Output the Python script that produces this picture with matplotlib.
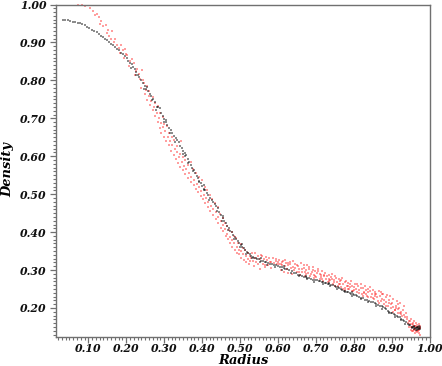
import matplotlib
matplotlib.use("Agg")
import matplotlib.pyplot as plt
from matplotlib.ticker import MultipleLocator, FormatStrFormatter

# Values (radius, density)
black_upper = [(.033,.960),(.039,.959),(.046,.958),(.053,.956),(.060,.955),(.066,.953),(.073,.952),(.078,.951),
 (.084,.948),(.090,.945),(.096,.941),(.103,.937),(.110,.934),(.116,.931),(.122,.928),(.127,.922),(.133,.918),
 (.138,.914),(.143,.908),(.149,.906),(.155,.901),(.160,.897),(.165,.893),(.170,.888),(.175,.883),(.181,.880),
 (.186,.873),(.191,.869),(.197,.864),(.202,.859),(.206,.852),(.210,.846),(.214,.842),(.218,.835),(.222,.829),
 (.227,.823),(.231,.815),(.235,.809),(.240,.800),(.244,.793),(.249,.786),(.253,.778),(.257,.773),(.262,.764),
 (.266,.758),(.270,.751),(.275,.742),(.281,.730),(.285,.731),(.289,.727),(.293,.715),(.297,.706),(.301,.698),
 (.305,.689),(.308,.682),(.313,.675),(.318,.668),(.322,.662),(.327,.654),(.331,.648),(.335,.642),(.339,.637)]
black_middle = [(.343,.628),(.347,.621),(.351,.614),(.355,.608),(.358,.602),(.362,.594),(.366,.585),(.370,.578),
 (.374,.570),(.378,.563),(.382,.556),(.386,.548),(.389,.542),(.393,.536),(.397,.530),(.401,.522),(.405,.514),
 (.409,.510),(.413,.504),(.417,.497),(.421,.491),(.425,.485),(.429,.480),(.433,.474),(.437,.468),(.442,.463),
 (.446,.453),(.450,.445),(.454,.437),(.458,.430),(.462,.424),(.466,.417),(.470,.411),(.474,.404),(.478,.399),
 (.482,.393),(.486,.388),(.490,.383),(.494,.377),(.498,.372),(.502,.367),(.506,.362),(.510,.357),(.514,.352),
 (.518,.348),(.522,.344),(.526,.341),(.530,.338),(.534,.335),(.538,.333),(.542,.331),(.546,.329),(.550,.328),
 (.555,.325),(.560,.323),(.565,.322),(.570,.320),(.575,.318),(.580,.317),(.585,.315),(.590,.314),(.595,.313)]
black_lower = [(.600,.311),(.605,.309),(.610,.307),(.615,.306),(.620,.304),(.625,.302),(.630,.299),(.636,.297),
 (.642,.293),(.648,.291),(.653,.288),(.658,.286),(.663,.285),(.668,.282),(.673,.281),(.678,.279),(.683,.278),
 (.688,.276),(.693,.275),(.698,.274),(.703,.273),(.708,.271),(.712,.270),(.716,.268),(.720,.268),(.724,.266),
 (.728,.265),(.732,.263),(.736,.262),(.740,.261),(.746,.260),(.750,.257),(.754,.255),(.758,.254),(.762,.252),
 (.766,.250),(.770,.248),(.774,.246),(.778,.245),(.782,.243),(.786,.241),(.790,.239),(.794,.238),(.798,.236),
 (.802,.235),(.806,.233),(.810,.231),(.815,.229),(.820,.227),(.825,.225),(.830,.222),(.835,.220),(.840,.219),
 (.845,.217),(.850,.215),(.855,.213),(.860,.210),(.865,.208),(.870,.205),(.874,.204),(.878,.202),(.882,.199),
 (.886,.196),(.890,.193),(.894,.190),(.898,.187),(.902,.187),(.906,.183),(.910,.181),(.914,.178),(.918,.177),
 (.922,.176),(.926,.172),(.930,.168),(.934,.166),(.938,.162),(.942,.159),(.946,.156),(.949,.155),(.953,.151),
 (.956,.150),(.959,.149),(.962,.147),(.965,.146),(.968,.148),(.971,.145),(.974,.144),(.975,.150),(.972,.152),
 (.968,.142),(.960,.144),(.955,.147),(.965,.141),(.970,.149),(.958,.153),(.972,.146),(.969,.144),(.966,.150)]
black_off = [(.213,.833),(.226,.815),(.248,.777),(.268,.748),(.279,.722),(.299,.691),(.316,.660),(.329,.638),
 (.349,.607),(.364,.581),(.376,.560),(.391,.531),(.404,.510),(.419,.485),(.440,.455),(.452,.430),(.468,.405),
 (.484,.382),(.500,.361),(.516,.343),(.532,.331),(.552,.320),(.572,.314),(.592,.308),(.612,.301),(.634,.293),
 (.655,.283),(.676,.276),(.696,.269),(.718,.263),(.738,.257),(.756,.250),(.776,.241),(.796,.232),(.818,.223),
 (.838,.215),(.858,.206),(.876,.198),(.892,.188),(.908,.177),(.924,.168),(.936,.158),(.795,.242),(.735,.266),
 (.675,.285),(.615,.311),(.555,.331),(.505,.369),(.455,.443),(.405,.523),(.355,.600),(.305,.695),(.255,.783)]

red_upper = [(.074,.999),(.083,.998),(.092,.995),(.105,.990),(.112,.983),(.122,.976),(.127,.967),(.134,.957),
 (.131,.948),(.146,.946),(.153,.933),(.162,.929),(.155,.918),(.161,.908),(.170,.910),(.176,.894),(.187,.893),
 (.192,.880),(.184,.872),(.198,.884),(.203,.867),(.195,.858),(.214,.856),(.208,.838),(.220,.846),(.229,.830),
 (.222,.815),(.241,.828),(.236,.804),(.246,.792),(.240,.781),(.254,.785),(.249,.763),(.261,.772),(.256,.748),
 (.270,.755),(.263,.735),(.276,.741),(.271,.722),(.283,.733),(.277,.705),(.289,.714),(.284,.690),(.296,.703),
 (.288,.675),(.301,.684),(.293,.662),(.308,.679),(.300,.650),(.314,.662),(.305,.640),(.320,.650),(.312,.629),
 (.327,.642),(.317,.615),(.334,.628),(.325,.604),(.345,.640),(.331,.592),(.341,.606),(.337,.583),(.349,.598)]
red_middle = [(.343,.572),(.356,.590),(.350,.563),(.362,.578),(.356,.552),(.370,.585),(.364,.542),(.376,.566),
 (.370,.533),(.385,.556),(.378,.524),(.392,.545),(.384,.514),(.400,.538),(.390,.505),(.407,.520),(.397,.494),
 (.414,.511),(.403,.486),(.420,.497),(.409,.476),(.427,.488),(.416,.466),(.434,.478),(.422,.456),(.441,.466),
 (.430,.446),(.448,.448),(.437,.434),(.454,.436),(.443,.424),(.460,.425),(.450,.412),(.466,.416),(.456,.402),
 (.472,.405),(.462,.391),(.478,.401),(.468,.382),(.484,.390),(.474,.372),(.490,.384),(.480,.362),(.496,.372),
 (.486,.353),(.502,.368),(.492,.345),(.508,.358),(.498,.342),(.514,.352),(.504,.331),(.520,.345),(.510,.326),
 (.526,.337),(.517,.321),(.533,.345),(.523,.315),(.540,.344),(.529,.331),(.548,.336),(.536,.310),(.556,.340),
 (.543,.322),(.563,.328),(.552,.304),(.570,.335),(.560,.316),(.578,.322),(.566,.308),(.586,.331),(.575,.312),
 (.594,.325),(.582,.305),(.598,.317)]
red_lower = [(.602,.327),(.604,.316),(.607,.300),(.610,.322),(.612,.312),(.615,.296),(.618,.327),(.620,.310),
 (.623,.302),(.626,.319),(.628,.292),(.632,.315),(.634,.305),(.638,.290),(.640,.324),(.643,.301),(.646,.316),
 (.650,.296),(.653,.310),(.656,.302),(.659,.288),(.662,.318),(.665,.295),(.668,.306),(.671,.285),(.674,.300),
 (.677,.312),(.680,.291),(.683,.303),(.686,.283),(.689,.296),(.692,.308),(.695,.286),(.698,.298),(.701,.281),
 (.704,.291),(.707,.302),(.710,.276),(.713,.288),(.716,.297),(.719,.271),(.722,.283),(.725,.292),(.728,.277),
 (.731,.268),(.734,.286),(.737,.274),(.740,.281),(.743,.290),(.746,.264),(.749,.275),(.752,.284),(.755,.268),
 (.758,.259),(.761,.276),(.764,.270),(.767,.256),(.770,.278),(.773,.262),(.776,.253),(.779,.272),(.782,.258),
 (.785,.266),(.788,.250),(.791,.262),(.794,.270),(.797,.246),(.800,.256),(.803,.264),(.806,.251),(.809,.243),
 (.812,.258),(.815,.247),(.818,.262),(.821,.236),(.824,.252),(.827,.243),(.830,.258),(.833,.248),(.836,.231),
 (.839,.242),(.842,.254),(.845,.228),(.848,.238),(.851,.248),(.854,.224),(.857,.243),(.860,.236),(.863,.218),
 (.866,.246),(.869,.231),(.872,.243),(.875,.224),(.878,.238),(.881,.210),(.884,.228),(.887,.235),(.890,.206),
 (.893,.222),(.896,.232),(.899,.200),(.902,.212),(.905,.224),(.908,.194),(.911,.206),(.914,.218),(.917,.188),
 (.920,.200),(.923,.213),(.926,.184),(.929,.194),(.932,.205),(.935,.176),(.938,.187),(.941,.170),(.944,.160),
 (.946,.149),(.949,.165),(.951,.143),(.953,.158),(.955,.150),(.957,.138),(.959,.166),(.961,.153),(.963,.145),
 (.965,.160),(.967,.136),(.969,.151),(.971,.158),(.973,.141),(.975,.130),(.976,.148),(.972,.134),(.966,.149),
 (.952,.170),(.958,.145),(.962,.135),(.968,.155),(.974,.152),(.948,.158),(.954,.139),(.960,.141),(.970,.138),
 (.905,.190),(.912,.199),(.918,.210),(.925,.190),(.885,.215),(.872,.218),(.855,.232),(.838,.250),(.825,.232),
 (.795,.245),(.785,.258),(.778,.247),(.765,.263),(.752,.259),(.735,.276),(.715,.282),(.695,.278),(.672,.295)]
red_fill = [(.118,.972),(.140,.943),(.150,.925),(.167,.902),(.180,.885),(.199,.870),(.211,.850),(.225,.826),
 (.233,.818),(.243,.802),(.252,.775),(.259,.760),(.266,.745),(.274,.731),(.281,.715),(.286,.702),(.292,.688),
 (.298,.677),(.303,.667),(.310,.652),(.316,.641),(.322,.630),(.329,.620),(.335,.610),(.340,.597),(.347,.585),
 (.353,.575),(.359,.566),(.366,.556),(.372,.546),(.379,.537),(.386,.528),(.392,.518),(.398,.509),(.405,.499),
 (.411,.490),(.417,.480),(.424,.470),(.430,.461),(.436,.452),(.443,.440),(.449,.428),(.455,.418),(.461,.408),
 (.467,.396),(.473,.388),(.479,.378),(.485,.370),(.491,.360),(.497,.354),(.503,.349),(.509,.341),(.515,.336),
 (.521,.330),(.527,.324),(.534,.325),(.541,.333),(.547,.315),(.553,.330),(.559,.336),(.565,.313),(.571,.327),
 (.577,.332),(.583,.322),(.589,.319),(.595,.329),(.601,.320),(.608,.317),(.614,.325),(.621,.318),(.627,.312),
 (.633,.320),(.639,.308),(.645,.305),(.651,.313),(.657,.295),(.663,.303),(.669,.312),(.675,.290),(.681,.309),
 (.687,.289),(.693,.300),(.699,.285),(.705,.297),(.711,.290),(.717,.277),(.723,.288),(.729,.284),(.736,.270),
 (.742,.276),(.748,.268),(.754,.280),(.760,.264),(.766,.273),(.772,.251),(.778,.268),(.784,.249),(.790,.255),
 (.796,.258),(.802,.248),(.808,.262),(.814,.240),(.820,.253),(.826,.239),(.832,.236),(.838,.228),(.844,.245),
 (.850,.226),(.856,.238),(.862,.228),(.868,.214),(.874,.237),(.880,.220),(.886,.205),(.892,.212),(.898,.210),
 (.904,.203),(.910,.195),(.916,.198),(.922,.186),(.928,.179),(.934,.182),(.940,.176),(.947,.165),(.956,.160),
 (.963,.152),(.970,.143),(.964,.139),(.957,.155),(.950,.150),(.974,.147)]

x_ticks_format = "%.2f"
x_label = "Radius"
y_label = "Density"
x_range = (0.0135, 1.0)
y_range = (0.1235, 1.0)

plt.rcParams.update({"font.family": "DejaVu Serif", "font.style": "italic", "font.weight": "bold",
                     "axes.labelweight": "bold"})

W, H = 442, 366
fig = plt.figure(figsize=(W / 100, H / 100), dpi=100)
ax = fig.add_axes([55.5 / W, 1 - 337 / H, (429.5 - 55.5) / W, (337 - 4.5) / H])

for pts, col, alpha in [(red_upper + red_middle + red_lower + red_fill, "#ff1010", 0.4),
                        (black_upper + black_middle + black_lower + black_off, "#000000", 0.45)]:
    xs, ys = zip(*pts)
    ax.scatter(xs, ys, s=0.7, marker="s", c=col, alpha=alpha, linewidths=0, clip_on=False)

ax.set_xlim(*x_range)
ax.set_ylim(*y_range)
grey = "#707070"
for s in ax.spines.values():
    s.set_color(grey)
    s.set_linewidth(1.0)

ax.xaxis.set_major_locator(MultipleLocator(0.1))
ax.xaxis.set_minor_locator(MultipleLocator(0.01))
ax.yaxis.set_major_locator(MultipleLocator(0.1))
ax.yaxis.set_minor_locator(MultipleLocator(0.01))
ax.xaxis.set_major_formatter(FormatStrFormatter(x_ticks_format))
ax.yaxis.set_major_formatter(FormatStrFormatter(x_ticks_format))

ax.tick_params(which="major", direction="out", length=4, width=0.9, color=grey, labelsize=7.8, labelcolor="#111111")
ax.tick_params(axis="x", which="major", pad=0.5)
ax.tick_params(axis="y", which="major", pad=2.5)
ax.tick_params(which="minor", direction="out", length=2, width=0.8, color=grey)

ax.set_xlabel(x_label, fontsize=9.4)
ax.set_ylabel(y_label, fontsize=9.4)
ax.xaxis.set_label_coords((243 - 55.5) / 374, -(361 - 337) / 332.5)
ax.yaxis.set_label_coords(-(55.5 - 7.5) / 374, (337 - 170) / 332.5)
ax.xaxis.label.set_va("center")
ax.yaxis.label.set_va("center")

fig.savefig("out.png", dpi=100)
